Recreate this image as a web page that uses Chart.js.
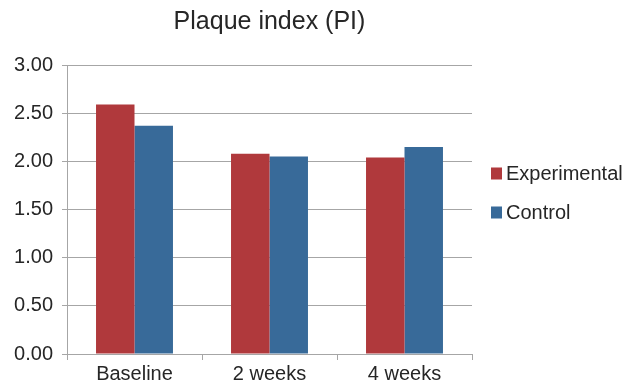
<!DOCTYPE html>
<html>
<head>
<meta charset="utf-8">
<script src="https://cdn.jsdelivr.net/npm/chart.js@4/dist/chart.umd.min.js"></script>
<style>
html,body{margin:0;padding:0;background:#fff;}
#wrap{width:627px;height:384px;position:relative;}
</style>
</head>
<body>
<div id="wrap"><canvas id="c" width="627" height="384"></canvas></div>
<script>
const categories = ["Baseline", "2 weeks", "4 weeks"];
const experimental = [2.59, 2.08, 2.04];
const control = [2.37, 2.05, 2.15];
const yTicks = [0, 0.5, 1, 1.5, 2, 2.5, 3];
const seriesNames = ["Experimental", "Control"];
const seriesColors = ["#b0393c", "#386a99"];
const chartTitle = "Plaque index (PI)";

const FONT = "'Liberation Sans', Arial, sans-serif";
const TEXT = "#262626";
const GRID = "#a6a6a6";

// Legend drawn beside the plot, from the chart's own datasets
const sideLegend = {
  id: 'sideLegend',
  afterDraw(chart) {
    const ctx = chart.ctx;
    const ds = chart.data.datasets;
    const area = chart.chartArea;
    const rowH = 39;
    const startY = (area.top + area.bottom) / 2 - 36;
    const boxX = area.right + 19;
    ctx.save();
    ctx.font = "20px " + FONT;
    ctx.textBaseline = 'middle';
    ctx.textAlign = 'left';
    ds.forEach((d, i) => {
      const cy = startY + i * rowH;
      ctx.fillStyle = d.backgroundColor;
      ctx.fillRect(boxX, cy - 6, 11, 12);
      ctx.fillStyle = TEXT;
      ctx.fillText(d.label, boxX + 15, cy + 1);
    });
    ctx.restore();
  }
};

new Chart(document.getElementById('c'), {
  type: 'bar',
  data: {
    labels: categories,
    datasets: [
      { label: seriesNames[0], data: experimental, backgroundColor: seriesColors[0], borderWidth: 0 },
      { label: seriesNames[1], data: control, backgroundColor: seriesColors[1], borderWidth: 0 }
    ]
  },
  plugins: [sideLegend],
  options: {
    responsive: false,
    animation: false,
    devicePixelRatio: 1,
    layout: { padding: { left: 0, right: 155, top: 0, bottom: 0 } },
    datasets: { bar: { categoryPercentage: 0.57, barPercentage: 1.0 } },
    plugins: {
      title: {
        display: true,
        text: chartTitle,
        fullSize: false,
        color: TEXT,
        font: { family: FONT, size: 25, weight: 'normal' },
        padding: { top: 7, bottom: 28 }
      },
      legend: { display: false },
      tooltip: { enabled: false }
    },
    scales: {
      x: {
        grid: {
          offset: true,
          drawOnChartArea: false,
          drawTicks: true,
          tickLength: 6,
          color: GRID
        },
        border: { color: GRID, width: 1 },
        ticks: {
          color: TEXT,
          font: { family: FONT, size: 20 },
          padding: 2
        },
        afterFit(s) { s.height = 30; }
      },
      y: {
        min: 0,
        max: 3,
        afterBuildTicks(s) { s.ticks = yTicks.map(v => ({ value: v })); },
        grid: {
          color: GRID,
          drawTicks: true,
          tickLength: 5
        },
        border: { color: GRID, width: 1 },
        ticks: {
          color: TEXT,
          font: { family: FONT, size: 20 },
          padding: 9,
          callback: v => Number(v).toFixed(2)
        },
        afterFit(s) { s.width = 67; }
      }
    }
  }
});
</script>
</body>
</html>
